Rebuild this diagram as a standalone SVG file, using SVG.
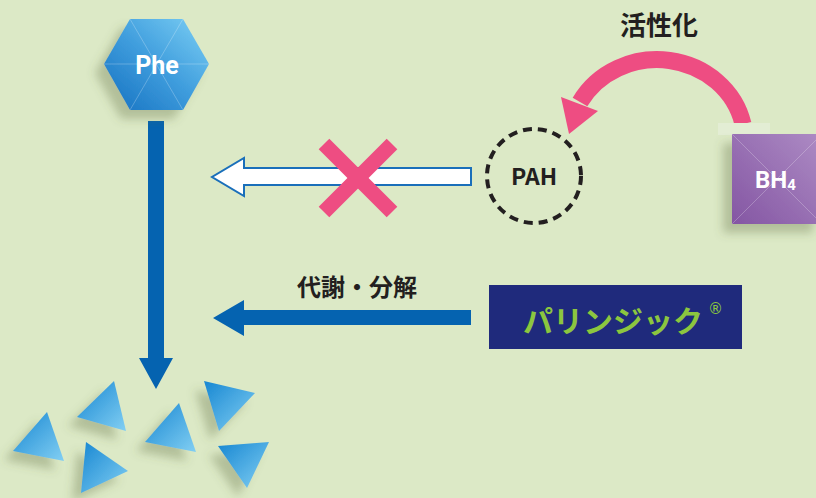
<svg xmlns="http://www.w3.org/2000/svg" width="816" height="498" viewBox="0 0 816 498">
  <defs>
    <style>
      .lbl { font-family: "Noto Sans CJK JP", "Noto Sans", sans-serif; font-weight: 700; fill: #231f20; }
      .wht { font-family: "Roboto", "Noto Sans", sans-serif; font-weight: 700; fill: #ffffff; }
      .facet { stroke: #ffffff; stroke-opacity: 0.3; stroke-width: 0.8; fill: none; }
      .tri { fill: url(#triGrad); filter: url(#shadow); }
    </style>
    <linearGradient id="hexGrad" x1="0" y1="1" x2="1" y2="0">
      <stop offset="0" stop-color="#1470c0"/>
      <stop offset="0.5" stop-color="#3f9ddd"/>
      <stop offset="1" stop-color="#7dd0f5"/>
    </linearGradient>
    <linearGradient id="boxGrad" x1="0" y1="1" x2="1" y2="0">
      <stop offset="0" stop-color="#8456a3"/>
      <stop offset="1" stop-color="#ad8bc4"/>
    </linearGradient>
    <linearGradient id="triGrad" x1="0" y1="0" x2="1" y2="1">
      <stop offset="0" stop-color="#1787d2"/>
      <stop offset="1" stop-color="#82cff3"/>
    </linearGradient>
    <filter id="shadow" x="-60%" y="-60%" width="220%" height="220%">
      <feDropShadow dx="-9" dy="9" stdDeviation="5" flood-color="#5a6b3a" flood-opacity="0.33"/>
    </filter>
  </defs>

  <rect width="816" height="498" fill="#dce9c6"/>

  <!-- connectors -->
  <g id="connectors">
    <!-- Phe breakdown: vertical arrow -->
    <path d="M148 121 H164 V358 H173 L156 389 L139 358 H148 Z" fill="#0563b0"/>
    <!-- blocked path: hollow arrow -->
    <path d="M471 168 H244 V158 L212 177 L244 196 V185 H471 Z" fill="#ffffff" stroke="#1a6fba" stroke-width="2" stroke-linejoin="miter"/>
    <!-- cross -->
    <g stroke="#ee4d82" stroke-width="15">
      <line x1="324" y1="144" x2="392" y2="212"/>
      <line x1="392" y1="144" x2="324" y2="212"/>
    </g>
    <!-- metabolism arrow -->
    <path d="M471 310 H244 V300 L213 318 L244 336 V325 H471 Z" fill="#0563b0"/>
    <!-- activation arc -->
    <path d="M743 124 A88 82 0 0 0 580 102" fill="none" stroke="#ee4d82" stroke-width="17"/>
    <polygon points="561,97 598,111 569,134" fill="#ee4d82"/>
  </g>

  <text class="lbl" x="659" y="35" font-size="26" text-anchor="middle">活性化</text>
  <text class="lbl" x="357" y="296" font-size="24" text-anchor="middle">代謝・分解</text>

  <!-- Phe -->
  <g id="phe">
    <polygon points="130,19 183,19 209,64 183,110 130,110 104,64" fill="url(#hexGrad)" filter="url(#shadow)"/>
    <path class="facet" d="M130 19 L183 110 M183 19 L130 110 M104 64 H209"/>
    <text class="wht" x="157" y="74" font-size="25" text-anchor="middle">Phe</text>
  </g>

  <!-- PAH -->
  <g id="pah">
    <circle cx="534" cy="176" r="47" fill="none" stroke="#231f20" stroke-width="4" stroke-dasharray="9 6"/>
    <text class="lbl" x="534" y="185" font-size="23" text-anchor="middle" font-family="Roboto, sans-serif">PAH</text>
  </g>

  <!-- BH4 -->
  <g id="bh4">
    <rect x="718" y="123" width="52" height="12" fill="#e3edd4"/>
    <rect x="732" y="134" width="90" height="90" fill="url(#boxGrad)" filter="url(#shadow)"/>
    <path class="facet" d="M732 134 L822 224 M732 224 L822 134"/>
    <text class="wht" x="755" y="188" font-size="24">BH<tspan font-size="15" dy="2">4</tspan></text>
  </g>

  <!-- product -->
  <g id="palynziq">
    <rect x="489" y="285" width="253" height="64" fill="#1f2a7c"/>
    <text x="523" y="332" font-family="Noto Sans CJK JP, sans-serif" font-weight="700" font-size="30" fill="#8cc63f">パリンジック</text>
    <text x="708" y="314" font-family="DejaVu Sans, sans-serif" font-size="15" fill="#8cc63f">®</text>
  </g>

  <!-- fragments -->
  <g id="fragments">
    <polygon class="tri" points="47,412 13,451 64,461"/>
    <polygon class="tri" points="114,381 77,417 126,431"/>
    <polygon class="tri" points="86,442 81,493 128,471"/>
    <polygon class="tri" points="179,403 145,442 196,452"/>
    <polygon class="tri" points="204,381 255,393 219,431"/>
    <polygon class="tri" points="218,446 269,442 247,488"/>
  </g>
</svg>
